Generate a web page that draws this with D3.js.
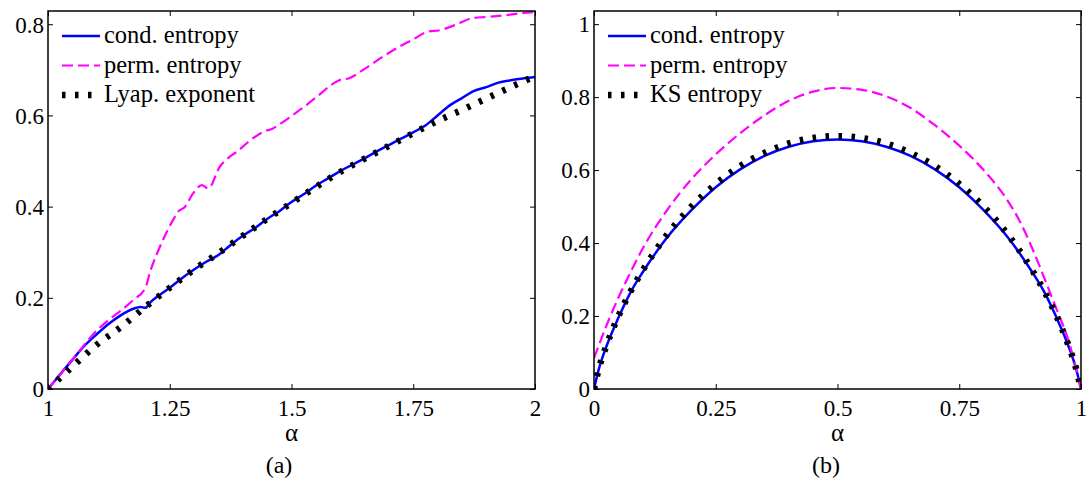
<!DOCTYPE html>
<html>
<head>
  <meta charset="UTF-8">
  <script src="https://cdn.jsdelivr.net/npm/d3@7"></script>
</head>
<body style="margin:0">
  <div class="chart"></div>

  <script type="text/javascript">
    // ---- panel (a): alpha in [1,2]
    const alphaCondA = [1.0, 1.025, 1.05, 1.075, 1.1, 1.125, 1.15, 1.175, 1.19, 1.2, 1.21, 1.225, 1.25, 1.275, 1.3, 1.325, 1.35, 1.375, 1.4, 1.425, 1.45, 1.475, 1.5, 1.525, 1.55, 1.575, 1.6, 1.625, 1.65, 1.675, 1.7, 1.725, 1.75, 1.775, 1.8, 1.825, 1.85, 1.875, 1.9, 1.925, 1.95, 1.975, 2.0];
    const condA = [0, 0.032, 0.064, 0.095, 0.12, 0.143, 0.162, 0.176, 0.18, 0.178, 0.19, 0.203, 0.222, 0.243, 0.262, 0.279, 0.294, 0.316, 0.336, 0.353, 0.373, 0.39, 0.41, 0.427, 0.446, 0.462, 0.478, 0.492, 0.506, 0.521, 0.535, 0.549, 0.563, 0.578, 0.6, 0.622, 0.638, 0.654, 0.662, 0.672, 0.677, 0.681, 0.684];

    const alphaPermA = [1.0, 1.05, 1.1, 1.125, 1.15, 1.175, 1.2, 1.21, 1.225, 1.24, 1.257, 1.268, 1.28, 1.298, 1.316, 1.329, 1.353, 1.374, 1.39, 1.408, 1.442, 1.463, 1.483, 1.517, 1.552, 1.586, 1.6, 1.617, 1.65, 1.682, 1.72, 1.75, 1.778, 1.805, 1.84, 1.87, 1.9, 1.942, 1.97, 2.0];
    const permA = [0, 0.064, 0.128, 0.152, 0.172, 0.195, 0.222, 0.258, 0.3, 0.336, 0.371, 0.39, 0.398, 0.429, 0.447, 0.44, 0.488, 0.51, 0.522, 0.539, 0.564, 0.572, 0.586, 0.612, 0.641, 0.67, 0.678, 0.681, 0.702, 0.725, 0.75, 0.767, 0.783, 0.787, 0.8, 0.813, 0.816, 0.82, 0.824, 0.827];

    const alphaLyapA = [1.0, 1.05, 1.1, 1.15, 1.2, 1.25, 1.3, 1.35, 1.4, 1.45, 1.5, 1.55, 1.6, 1.65, 1.7, 1.75, 1.8, 1.85, 1.9, 1.95, 2.0];
    const lyapA = [0, 0.049, 0.097, 0.136, 0.18, 0.222, 0.262, 0.298, 0.336, 0.373, 0.408, 0.443, 0.476, 0.505, 0.533, 0.561, 0.588, 0.612, 0.637, 0.662, 0.686];

    // ---- panel (b): alpha in [0,1]
    const alphaB = [0, 0.01, 0.025, 0.05, 0.075, 0.1, 0.15, 0.2, 0.25, 0.3, 0.35, 0.4, 0.45, 0.5, 0.55, 0.6, 0.65, 0.7, 0.75, 0.8, 0.85, 0.9, 0.925, 0.95, 0.975, 0.99, 1];
    const condB = [0, 0.055, 0.115, 0.195, 0.265, 0.32, 0.415, 0.49, 0.553, 0.602, 0.639, 0.664, 0.679, 0.684, 0.679, 0.664, 0.639, 0.602, 0.553, 0.49, 0.415, 0.32, 0.265, 0.195, 0.115, 0.055, 0];
    const ksB = [0, 0.056, 0.117, 0.199, 0.267, 0.325, 0.423, 0.5, 0.562, 0.611, 0.647, 0.673, 0.688, 0.693, 0.688, 0.673, 0.647, 0.611, 0.562, 0.5, 0.423, 0.325, 0.267, 0.199, 0.117, 0.056, 0];

    const alphaPermB = [0, 0.01, 0.025, 0.05, 0.075, 0.1, 0.15, 0.2, 0.25, 0.3, 0.35, 0.4, 0.45, 0.5, 0.55, 0.6, 0.65, 0.7, 0.75, 0.8, 0.85, 0.875, 0.9, 0.925, 0.95, 0.975, 0.99, 1];
    const permB = [0.085, 0.12, 0.172, 0.25, 0.32, 0.385, 0.49, 0.575, 0.643, 0.701, 0.75, 0.79, 0.815, 0.825, 0.82, 0.802, 0.77, 0.723, 0.667, 0.6, 0.515, 0.458, 0.385, 0.303, 0.218, 0.13, 0.055, 0];

    // ticks
    const xTicksA = [1, 1.25, 1.5, 1.75, 2];
    const yTicksA = [0, 0.2, 0.4, 0.6, 0.8];
    const xTicksB = [0, 0.25, 0.5, 0.75, 1];
    const yTicksB = [0, 0.2, 0.4, 0.6, 0.8, 1];

    const legendA = ['cond. entropy', 'perm. entropy', 'Lyap. exponent'];
    const legendB = ['cond. entropy', 'perm. entropy', 'KS entropy'];

    const styles = [
      { color: '#0000ff', width: 2.5, dash: null },
      { color: '#ff00ff', width: 2.2, dash: '11 5' },
      { color: '#000000', width: 6.5, dash: '3.5 9.5' }
    ];

    const svg = d3.select('.chart')
      .append('svg')
      .attr('width', 1086)
      .attr('height', 491)
      .style('font-family', 'Liberation Serif');

    function zip(xs, ys) {
      return xs.map(function(x, i) { return [x, ys[i]]; });
    }

    function serif(sel, size) {
      return sel.attr('font-family', null)
        .style('font-family', 'Liberation Serif')
        .style('font-size', size + 'px')
        .attr('fill', '#000');
    }

    function drawPanel(cfg) {
      const x = d3.scaleLinear().domain(cfg.xDomain).range([cfg.left, cfg.right]);
      const y = d3.scaleLinear().domain(cfg.yDomain).range([cfg.bottom, cfg.top]);
      const g = svg.append('g');

      g.append('clipPath').attr('id', cfg.id)
        .append('rect')
        .attr('x', cfg.left).attr('y', cfg.top)
        .attr('width', cfg.right - cfg.left).attr('height', cfg.bottom - cfg.top);

      const line = d3.line()
        .x(function(d) { return x(d[0]); })
        .y(function(d) { return y(d[1]); })
        .curve(d3.curveMonotoneX);

      const plot = g.append('g').attr('clip-path', 'url(#' + cfg.id + ')');
      cfg.series.forEach(function(s, i) {
        plot.append('path')
          .datum(s)
          .attr('fill', 'none')
          .attr('stroke', styles[i].color)
          .attr('stroke-width', styles[i].width)
          .attr('stroke-dasharray', styles[i].dash)
          .attr('d', line);
      });

      // axes, ticks inward on all sides
      const tl = 5;
      g.append('g').attr('transform', 'translate(0,' + cfg.bottom + ')')
        .call(d3.axisBottom(x).tickValues(cfg.xTicks).tickSizeInner(-tl).tickSizeOuter(0).tickFormat(d3.format('')))
        .attr('font-family', null)
        .call(function(a) {
          a.select('.domain').remove();
          a.selectAll('line').attr('stroke', '#000');
          serif(a.selectAll('text'), 23).attr('dy', null).attr('y', 27);
        });
      g.append('g').attr('transform', 'translate(0,' + cfg.top + ')')
        .call(d3.axisTop(x).tickValues(cfg.xTicks).tickSizeInner(-tl).tickSizeOuter(0).tickFormat(''))
        .call(function(a) { a.select('.domain').remove(); a.selectAll('line').attr('stroke', '#000'); });
      g.append('g').attr('transform', 'translate(' + cfg.left + ',0)')
        .call(d3.axisLeft(y).tickValues(cfg.yTicks).tickSizeInner(-tl).tickSizeOuter(0).tickFormat(d3.format('')))
        .attr('font-family', null)
        .call(function(a) {
          a.select('.domain').remove();
          a.selectAll('line').attr('stroke', '#000');
          serif(a.selectAll('text'), 23).attr('x', -4).attr('dy', '0.34em');
        });
      g.append('g').attr('transform', 'translate(' + cfg.right + ',0)')
        .call(d3.axisRight(y).tickValues(cfg.yTicks).tickSizeInner(-tl).tickSizeOuter(0).tickFormat(''))
        .call(function(a) { a.select('.domain').remove(); a.selectAll('line').attr('stroke', '#000'); });

      g.append('rect')
        .attr('x', cfg.left).attr('y', cfg.top)
        .attr('width', cfg.right - cfg.left).attr('height', cfg.bottom - cfg.top)
        .attr('fill', 'none').attr('stroke', '#000').attr('stroke-width', 1.5);

      // legend
      const leg = g.append('g');
      cfg.legend.forEach(function(name, i) {
        const ly = cfg.top + 25 + i * 29.5;
        leg.append('line')
          .attr('x1', cfg.left + 14).attr('x2', cfg.left + 52)
          .attr('y1', ly).attr('y2', ly)
          .attr('stroke', styles[i].color)
          .attr('stroke-width', styles[i].width)
          .attr('stroke-dasharray', styles[i].dash);
        serif(leg.append('text'), 24.5)
          .attr('x', cfg.left + 56).attr('y', ly + 7)
          .text(name);
      });

      serif(g.append('text'), 25)
        .attr('x', (cfg.left + cfg.right) / 2).attr('y', 441)
        .attr('text-anchor', 'middle').text('α');
      serif(g.append('text'), 24)
        .attr('x', cfg.captionX).attr('y', 473)
        .attr('text-anchor', 'middle').text(cfg.caption);
    }

    drawPanel({
      id: 'clipA', left: 48, right: 535, top: 11, bottom: 389,
      xDomain: [1, 2], yDomain: [0, 0.829],
      xTicks: xTicksA, yTicks: yTicksA,
      series: [zip(alphaCondA, condA), zip(alphaPermA, permA), zip(alphaLyapA, lyapA)],
      legend: legendA, caption: '(a)', captionX: 279
    });

    drawPanel({
      id: 'clipB', left: 594, right: 1081, top: 11, bottom: 389,
      xDomain: [0, 1], yDomain: [0, 1.036],
      xTicks: xTicksB, yTicks: yTicksB,
      series: [zip(alphaB, condB), zip(alphaPermB, permB), zip(alphaB, ksB)],
      legend: legendB, caption: '(b)', captionX: 826
    });
  </script>
</body>
</html>
